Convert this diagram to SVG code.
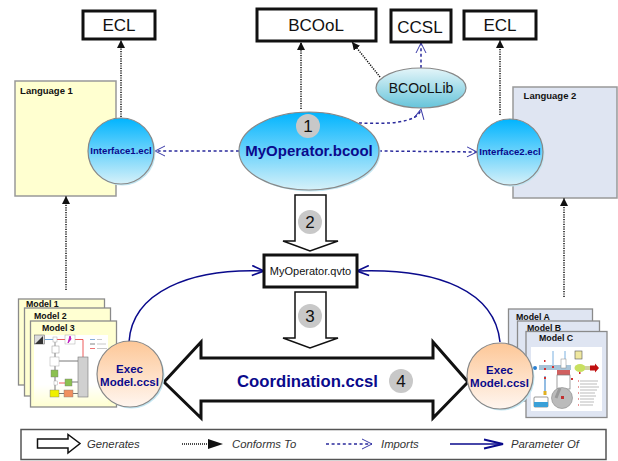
<svg xmlns="http://www.w3.org/2000/svg" width="618" height="461" viewBox="0 0 618 461">
<style>
text{font-family:"Liberation Sans",Arial,sans-serif;text-anchor:middle;fill:#111}
.box{fill:#fff;stroke:#111;stroke-width:3}
.conf{fill:none;stroke:#111;stroke-width:1.5;stroke-dasharray:1.2 1.2;marker-end:url(#mConf)}
.imp{fill:none;stroke:#2a2a9c;stroke-width:1.5;stroke-dasharray:3 2.6;marker-end:url(#mImp)}
.par{fill:none;stroke:#0a0a8c;stroke-width:1.5;marker-end:url(#mPar)}
.gen{fill:#fff;stroke:#111;stroke-width:1.5}
.bold{font-weight:bold;fill:#0a0a8c}
.badge{fill:#c8c8c8}
.oval{stroke:#888;stroke-width:1.2}
.shadow{fill:#c2e6f2}
.lang{stroke:#999;stroke-width:1.5}
.mdl{font-size:8.8px;font-weight:bold;text-anchor:start}
.leg{font-size:11.3px;font-style:italic;text-anchor:start;fill:#333}
.y{fill:#ffffd2;stroke:#8a8a8a;stroke-width:1.3}
.b{fill:#dfe5f2;stroke:#8a8a8a;stroke-width:1.3}
</style>
<defs>
<marker id="mConf" markerUnits="userSpaceOnUse" markerWidth="10" markerHeight="8" refX="8" refY="4" orient="auto"><path d="M0 0L8 4L0 8Z" fill="#111"/></marker>
<marker id="mImp" markerUnits="userSpaceOnUse" markerWidth="12" markerHeight="12" refX="10.5" refY="6" orient="auto"><path d="M0.5 1L10.5 6L0.5 11" fill="none" stroke="#3a3aa8" stroke-width="1"/></marker>
<marker id="mPar" markerUnits="userSpaceOnUse" markerWidth="14" markerHeight="12" refX="12.5" refY="6" orient="auto"><path d="M0.5 1L12.5 6L0.5 11" fill="none" stroke="#0a0a8c" stroke-width="1.7"/></marker>
<linearGradient id="gBlue" x1="0" y1="0" x2="0" y2="1"><stop offset="0" stop-color="#00b4fe"/><stop offset="1" stop-color="#d6f1f9"/></linearGradient>
<linearGradient id="gLib" x1="0" y1="0" x2="0" y2="1"><stop offset="0" stop-color="#e4f5f9"/><stop offset="1" stop-color="#66c4da"/></linearGradient>
<linearGradient id="gExec" x1="0" y1="0" x2="0" y2="1"><stop offset="0" stop-color="#fdc797"/><stop offset="1" stop-color="#fff6f0"/></linearGradient>
<linearGradient id="gFade" x1="0" y1="0" x2="0" y2="1"><stop offset="0" stop-color="#fff"/><stop offset="0.7" stop-color="#fff"/><stop offset="1" stop-color="#ffffd2"/></linearGradient>
</defs>

<g id="language1"><rect class="lang" x="15" y="81" width="101" height="115" fill="#ffffd0"/><text x="46.500" y="93.500" font-size="9.500" font-weight="bold">Language 1</text></g>
<g id="language2"><rect class="lang" x="513" y="87" width="104" height="111" fill="#dfe5f2"/><text x="550" y="99" font-size="9.500" font-weight="bold">Language 2</text></g>

<g id="connectors">
<path class="conf" d="M121 117V40"/>
<path class="conf" d="M301 109V42"/>
<path class="conf" d="M380 77L352 42"/>
<path class="conf" d="M500 115V40"/>
<path class="conf" d="M66 290V196"/>
<path class="conf" d="M564 297V198"/>
<path class="imp" d="M421 68V43"/>
<path class="imp" d="M359 123C385 124 418 124 421 109"/>
<path class="imp" d="M239 151H155"/>
<path class="imp" d="M379 151L477 152"/>
<path class="par" d="M129 342C132 292 190 268 264 271"/>
<path class="par" d="M500 342C495 292 440 268 357 271"/>
</g>

<g id="generates2"><path class="gen" d="M295 195H326V241H338L310 251L283 241H295Z"/><circle class="badge" cx="310" cy="222" r="12"/><text x="310" y="228" font-size="17">2</text></g>
<g id="generates3"><path class="gen" d="M295 292H326V338H338L310 348L283 338H295Z"/><circle class="badge" cx="310" cy="316" r="12"/><text x="310" y="322" font-size="17">3</text></g>

<g id="coordination"><path d="M164 382L201 342V358H433V342L468 382L433 418V401H201V418Z" fill="#fff" stroke="#111" stroke-width="3"/><text class="bold" x="307.500" y="387" font-size="16.700">Coordination.ccsl</text><circle class="badge" cx="401" cy="381" r="12"/><text x="401" y="387" font-size="17">4</text></g>

<g id="ecl1"><rect class="box" x="83" y="11" width="72" height="28"/><text x="119" y="31" font-size="17">ECL</text></g>
<g id="bcool"><rect class="box" x="257" y="9" width="119" height="32"/><text x="316" y="31" font-size="17">BCOoL</text></g>
<g id="ccsl"><rect class="box" x="391" y="10" width="60" height="32"/><text x="420" y="33" font-size="17">CCSL</text></g>
<g id="ecl2"><rect class="box" x="464" y="11" width="72" height="28"/><text x="500" y="31" font-size="17">ECL</text></g>

<g id="bcoollib"><ellipse class="oval" cx="421" cy="88" rx="45" ry="20" fill="url(#gLib)"/><text x="421" y="93" font-size="14">BCOoLLib</text></g>
<g id="myoperator"><ellipse class="shadow" cx="310.500" cy="152.500" rx="70" ry="39"/><ellipse class="oval" cx="309" cy="151" rx="70" ry="39" fill="url(#gBlue)"/><circle class="badge" cx="308" cy="126" r="12"/><text x="308" y="132" font-size="17">1</text><text class="bold" x="309" y="156" font-size="15">MyOperator.bcool</text></g>
<g id="interface1"><circle class="shadow" cx="122.500" cy="152.500" r="33"/><circle class="oval" cx="121" cy="151" r="33" fill="url(#gBlue)"/><text class="bold" x="121" y="154" font-size="9.600">Interface1.ecl</text></g>
<g id="interface2"><circle class="shadow" cx="511.500" cy="153.500" r="33"/><circle class="oval" cx="510" cy="152" r="33" fill="url(#gBlue)"/><text class="bold" x="510" y="155" font-size="9.600">Interface2.ecl</text></g>

<g id="qvto"><rect class="box" x="264" y="255" width="93" height="32"/><text x="310.500" y="275" font-size="11">MyOperator.qvto</text></g>

<g id="models1">
<rect class="y" x="18.500" y="299" width="86" height="86"/><text class="mdl" x="26" y="307">Model 1</text>
<rect class="y" x="24.500" y="308" width="86" height="88"/><text class="mdl" x="34" y="319">Model 2</text>
<rect class="y" x="30.500" y="321" width="86" height="86"/><text class="mdl" x="42" y="330.500">Model 3</text>
<rect x="34" y="335" width="74" height="71" fill="url(#gFade)"/>
<g fill="none" stroke-width="0.8">
<path d="M45 339.500H53" stroke="#4a90d0"/><path d="M57 339.500H65M75 339.500H83V357M59 383H65" stroke="#e83030"/>
<path d="M59 361H78M55 353V357M55 366V370M55 377V381M55 385V390M59 393.500H64M73 393.500H78M72 382H78" stroke="#555"/>
<path d="M55 342V346" stroke="#777"/>
<path d="M90 339.500H95" stroke="#6a9ad0"/><path d="M90 344H95" stroke="#666"/><path d="M90 348.500H95" stroke="#e85050"/>
<path d="M97 339.500H102M97 344H106M97 348.500H107" stroke="#bbb"/>
</g>
<rect x="34.500" y="335" width="10" height="9" fill="#ddd" stroke="#555" stroke-width="0.5"/><path d="M35 344L43 336V344Z" fill="#333"/>
<rect x="53" y="337" width="4" height="5" fill="#fff" stroke="#aaa" stroke-width="0.5"/>
<rect x="65" y="335" width="10" height="9" fill="#fff" stroke="#aaa" stroke-width="0.5"/><path d="M70 336L68 343L71 339Z" fill="#c020c0" stroke="#c020c0"/>
<rect x="52" y="346" width="7" height="7" fill="#fff" stroke="#999" stroke-width="0.5"/>
<rect x="50" y="357" width="9" height="9" fill="#fff" stroke="#aaa" stroke-width="0.5"/>
<rect x="51" y="370" width="7" height="7" fill="#8cc050" stroke="#777" stroke-width="0.4"/>
<rect x="54" y="381" width="3.500" height="4" fill="#fff" stroke="#999" stroke-width="0.4"/>
<rect x="65" y="379" width="7" height="7" fill="#8cc050" stroke="#777" stroke-width="0.4"/>
<rect x="50" y="390" width="9" height="7" fill="#f0f000" stroke="#777" stroke-width="0.4"/>
<rect x="64" y="390" width="9" height="7" fill="#f09060" stroke="#777" stroke-width="0.4"/>
<rect x="78" y="357" width="10" height="40" fill="#d0d0d0" stroke="#777" stroke-width="0.6"/>
</g>

<g id="models2">
<rect class="b" x="508.500" y="309" width="84" height="70"/><text class="mdl" x="516" y="320">Model A</text>
<rect class="b" x="517.500" y="321" width="82" height="80"/><text class="mdl" x="527" y="330.500">Model B</text>
<rect class="b" x="526" y="331.500" width="81" height="86"/><text class="mdl" x="539" y="341">Model C</text>
<rect x="531" y="347" width="71" height="64" fill="#fff"/>
<rect x="539" y="365" width="32" height="5" fill="#a8c4d8"/>
<circle cx="535" cy="368" r="2" fill="#2a80d0"/>
<path d="M553 351V365M565 351V365" stroke="#7ab0e0" stroke-width="1" fill="none"/>
<rect x="561" y="359" width="5" height="9" fill="#fff" stroke="#888" stroke-width="0.5"/>
<rect x="575" y="351" width="7" height="8" fill="#f0e8a0" stroke="#555" stroke-width="0.6"/>
<rect x="557" y="370" width="13" height="5" fill="#d06060"/>
<rect x="557" y="375" width="13" height="14" fill="#fff" stroke="#777" stroke-width="0.7"/>
<circle cx="562" cy="398" r="10.500" fill="#bbb" stroke="#888" stroke-width="0.6"/>
<path d="M560 388L556 398" stroke="#999" stroke-width="3" fill="none"/>
<rect x="561" y="396" width="3" height="3" fill="#c03030"/>
<ellipse cx="580" cy="368" rx="5.500" ry="4" fill="#c8e060"/>
<rect x="585" y="366" width="5" height="4" fill="#d0d0a0"/>
<path d="M590 365.500H595V363.500L599 368L595 372.500V370.500H590Z" fill="#c01010"/>
<path d="M545 376V391" stroke="#4a90d0" stroke-width="1.200" fill="none"/>
<rect x="543.500" y="391" width="3" height="4" fill="#e0b020"/>
<rect x="534" y="397" width="14" height="10" rx="1" fill="#fff" stroke="#555" stroke-width="0.6"/>
<rect x="534" y="402" width="14" height="5" fill="#3aa0d8"/>
<g fill="#d03030"><rect x="544" y="368" width="2" height="2"/><rect x="552" y="366" width="2" height="2"/><rect x="571" y="378" width="2" height="2"/><rect x="544" y="377" width="2" height="2"/><rect x="579" y="372" width="1.500" height="2"/><rect x="544" y="360" width="1.500" height="2"/></g>
<g stroke="#aaa" stroke-width="0.8" fill="none"><path d="M580 381H598M580 384H597M580 387H599M580 390H597M580 393H595M580 396H596M580 399H594M580 402H594M580 405H593"/></g>
<g fill="#d03030"><rect x="578" y="380.500" width="1" height="1"/><rect x="578" y="386.500" width="1" height="1"/><rect x="578" y="392.500" width="1" height="1"/><rect x="578" y="398.500" width="1" height="1"/><rect x="578" y="404.500" width="1" height="1"/></g>
</g>

<g id="exec1"><circle class="shadow" cx="131.500" cy="375.500" r="33"/><circle class="oval" cx="130" cy="374" r="33" fill="url(#gExec)"/><text class="bold" x="129.500" y="373" font-size="11.500">Exec</text><text class="bold" x="129.500" y="386" font-size="11.500">Model.ccsl</text></g>
<g id="exec2"><circle class="shadow" cx="501.500" cy="377.500" r="33"/><circle class="oval" cx="500" cy="376" r="33" fill="url(#gExec)"/><text class="bold" x="499.500" y="374" font-size="11.500">Exec</text><text class="bold" x="499.500" y="387" font-size="11.500">Model.ccsl</text></g>

<g id="legend">
<rect x="21" y="429.500" width="585" height="30" fill="#fff" stroke="#555" stroke-width="1.500"/>
<path class="gen" d="M37.500 439H68V434.500L80 443.500L68 453V448H37.500Z"/>
<text class="leg" x="87" y="448">Generates</text>
<path d="M182 444H208" stroke="#111" stroke-width="1.500" stroke-dasharray="1 1" fill="none"/><path d="M208 439L223 444L208 449Z" fill="#111"/>
<text class="leg" x="232" y="448">Conforms To</text>
<path d="M326 444H372" stroke="#2a2a9c" stroke-width="1.500" stroke-dasharray="3 2.600" fill="none"/><path d="M362 439L372 444L362 449" fill="none" stroke="#3a3aa8" stroke-width="1"/>
<text class="leg" x="381" y="448">Imports</text>
<path d="M450 444H502" stroke="#0a0a8c" stroke-width="1.500" fill="none"/><path d="M484 439.500L503 444L484 448.500" fill="none" stroke="#0a0a8c" stroke-width="1.800"/>
<text class="leg" x="511" y="448">Parameter Of</text>
</g>
</svg>
